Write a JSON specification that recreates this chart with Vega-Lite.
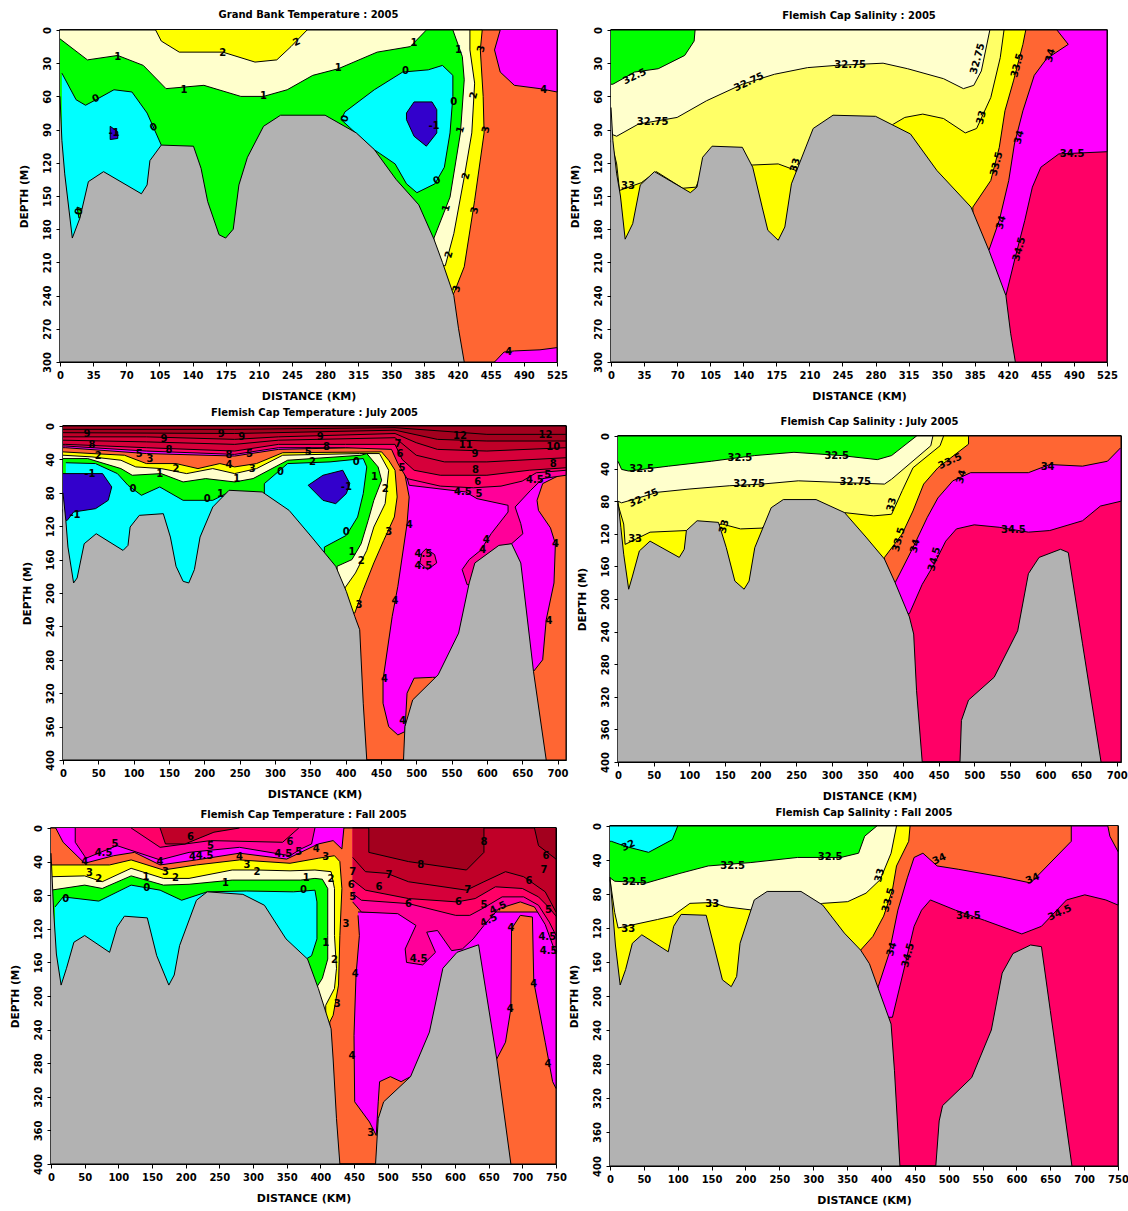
{"$schema":"https://vega.github.io/schema/vega-lite/v6.json","background":"white","padding":{"left":0,"top":8,"right":0,"bottom":0},
"config":{"view":{"stroke":"#000","strokeWidth":1.5},"title":{"font":"DejaVu Sans","fontSize":10,"fontWeight":"bold","color":"#000"},"axis":{"grid":false,"labelFont":"DejaVu Sans","labelFontSize":10,"labelFontWeight":"bold","labelColor":"#000","titleFont":"DejaVu Sans","titleFontWeight":"bold","titleColor":"#000","tickColor":"#000","tickSize":4,"domainColor":"#000","labelPadding":4},"axisY":{"labelAngle":-90,"titlePadding":13,"titleFontSize":10.5},"axisX":{"titlePadding":10,"titleFontSize":11}},
"datasets":{
"d1":[{"p":1,"b":"t3-4","x":0,"y":0},{"p":1,"b":"t3-4","x":525,"y":0},{"p":1,"b":"t3-4","x":525,"y":300},{"p":1,"b":"t3-4","x":0,"y":300},
{"p":2,"b":"t4-4.5","x":465,"y":0},{"p":2,"b":"t4-4.5","x":459,"y":18},{"p":2,"b":"t4-4.5","x":465,"y":38},{"p":2,"b":"t4-4.5","x":480,"y":50},{"p":2,"b":"t4-4.5","x":507,"y":53},{"p":2,"b":"t4-4.5","x":525,"y":56},{"p":2,"b":"t4-4.5","x":525,"y":0},
{"p":3,"b":"t4-4.5","x":459,"y":300},{"p":3,"b":"t4-4.5","x":469,"y":291},{"p":3,"b":"t4-4.5","x":480,"y":290},{"p":3,"b":"t4-4.5","x":507,"y":289},{"p":3,"b":"t4-4.5","x":525,"y":287},{"p":3,"b":"t4-4.5","x":525,"y":300},
{"p":4,"b":"t2-3","x":0,"y":0},{"p":4,"b":"t2-3","x":446,"y":0},{"p":4,"b":"t2-3","x":444,"y":18},{"p":4,"b":"t2-3","x":447,"y":60},{"p":4,"b":"t2-3","x":448,"y":93},{"p":4,"b":"t2-3","x":438,"y":154},{"p":4,"b":"t2-3","x":427,"y":214},{"p":4,"b":"t2-3","x":416,"y":238},{"p":4,"b":"t2-3","x":0,"y":238},
{"p":5,"b":"t1-2","x":0,"y":0},{"p":5,"b":"t1-2","x":433,"y":0},{"p":5,"b":"t1-2","x":433,"y":18},{"p":5,"b":"t1-2","x":438,"y":48},{"p":5,"b":"t1-2","x":435,"y":93},{"p":5,"b":"t1-2","x":427,"y":133},{"p":5,"b":"t1-2","x":416,"y":184},{"p":5,"b":"t1-2","x":407,"y":213},{"p":5,"b":"t1-2","x":0,"y":213},
{"p":6,"b":"t0-1","x":0,"y":8},{"p":6,"b":"t0-1","x":29,"y":27},{"p":6,"b":"t0-1","x":61,"y":23},{"p":6,"b":"t0-1","x":88,"y":32},{"p":6,"b":"t0-1","x":112,"y":53},{"p":6,"b":"t0-1","x":152,"y":50},{"p":6,"b":"t0-1","x":191,"y":60},{"p":6,"b":"t0-1","x":215,"y":60},{"p":6,"b":"t0-1","x":240,"y":54},{"p":6,"b":"t0-1","x":267,"y":41},{"p":6,"b":"t0-1","x":294,"y":35},{"p":6,"b":"t0-1","x":335,"y":20},{"p":6,"b":"t0-1","x":370,"y":15},{"p":6,"b":"t0-1","x":387,"y":0},{"p":6,"b":"t0-1","x":415,"y":0},{"p":6,"b":"t0-1","x":425,"y":24},{"p":6,"b":"t0-1","x":427,"y":45},{"p":6,"b":"t0-1","x":423,"y":93},{"p":6,"b":"t0-1","x":412,"y":151},{"p":6,"b":"t0-1","x":395,"y":188},{"p":6,"b":"t0-1","x":395,"y":200},{"p":6,"b":"t0-1","x":0,"y":200},
{"p":7,"b":"t2-3","x":101,"y":0},{"p":7,"b":"t2-3","x":107,"y":10},{"p":7,"b":"t2-3","x":126,"y":20},{"p":7,"b":"t2-3","x":172,"y":20},{"p":7,"b":"t2-3","x":206,"y":29},{"p":7,"b":"t2-3","x":229,"y":27},{"p":7,"b":"t2-3","x":244,"y":15},{"p":7,"b":"t2-3","x":261,"y":0},
{"p":8,"b":"t-1-0","x":2,"y":39},{"p":8,"b":"t-1-0","x":17,"y":63},{"p":8,"b":"t-1-0","x":27,"y":68},{"p":8,"b":"t-1-0","x":38,"y":63},{"p":8,"b":"t-1-0","x":57,"y":54},{"p":8,"b":"t-1-0","x":76,"y":56},{"p":8,"b":"t-1-0","x":92,"y":75},{"p":8,"b":"t-1-0","x":107,"y":104},{"p":8,"b":"t-1-0","x":107,"y":200},{"p":8,"b":"t-1-0","x":2,"y":200},
{"p":9,"b":"t-1-0","x":301,"y":74},{"p":9,"b":"t-1-0","x":332,"y":54},{"p":9,"b":"t-1-0","x":362,"y":38},{"p":9,"b":"t-1-0","x":389,"y":36},{"p":9,"b":"t-1-0","x":404,"y":32},{"p":9,"b":"t-1-0","x":415,"y":41},{"p":9,"b":"t-1-0","x":415,"y":60},{"p":9,"b":"t-1-0","x":412,"y":93},{"p":9,"b":"t-1-0","x":406,"y":124},{"p":9,"b":"t-1-0","x":396,"y":139},{"p":9,"b":"t-1-0","x":377,"y":147},{"p":9,"b":"t-1-0","x":366,"y":139},{"p":9,"b":"t-1-0","x":354,"y":121},{"p":9,"b":"t-1-0","x":330,"y":107},{"p":9,"b":"t-1-0","x":297,"y":81},{"p":9,"b":"t-1-0","x":301,"y":74},
{"p":10,"b":"t<-1","x":53,"y":87},{"p":10,"b":"t<-1","x":61,"y":92},{"p":10,"b":"t<-1","x":61,"y":98},{"p":10,"b":"t<-1","x":53,"y":99},{"p":10,"b":"t<-1","x":53,"y":87},
{"p":11,"b":"t<-1","x":366,"y":75},{"p":11,"b":"t<-1","x":374,"y":65},{"p":11,"b":"t<-1","x":393,"y":65},{"p":11,"b":"t<-1","x":398,"y":72},{"p":11,"b":"t<-1","x":398,"y":93},{"p":11,"b":"t<-1","x":387,"y":105},{"p":11,"b":"t<-1","x":374,"y":96},{"p":11,"b":"t<-1","x":366,"y":81},{"p":11,"b":"t<-1","x":366,"y":75},
{"p":12,"b":"t0-1","x":18,"y":160},{"p":12,"b":"t0-1","x":24,"y":162},{"p":12,"b":"t0-1","x":24,"y":168},{"p":12,"b":"t0-1","x":20,"y":170},{"p":12,"b":"t0-1","x":18,"y":160},
{"p":13,"b":"floor","x":0,"y":60},{"p":13,"b":"floor","x":2,"y":100},{"p":13,"b":"floor","x":5,"y":130},{"p":13,"b":"floor","x":13,"y":188},{"p":13,"b":"floor","x":21,"y":170},{"p":13,"b":"floor","x":30,"y":137},{"p":13,"b":"floor","x":46,"y":128},{"p":13,"b":"floor","x":86,"y":148},{"p":13,"b":"floor","x":92,"y":140},{"p":13,"b":"floor","x":95,"y":118},{"p":13,"b":"floor","x":107,"y":104},{"p":13,"b":"floor","x":141,"y":105},{"p":13,"b":"floor","x":149,"y":125},{"p":13,"b":"floor","x":156,"y":155},{"p":13,"b":"floor","x":168,"y":185},{"p":13,"b":"floor","x":175,"y":188},{"p":13,"b":"floor","x":183,"y":180},{"p":13,"b":"floor","x":189,"y":140},{"p":13,"b":"floor","x":198,"y":115},{"p":13,"b":"floor","x":215,"y":87},{"p":13,"b":"floor","x":233,"y":77},{"p":13,"b":"floor","x":280,"y":77},{"p":13,"b":"floor","x":313,"y":93},{"p":13,"b":"floor","x":332,"y":108},{"p":13,"b":"floor","x":355,"y":135},{"p":13,"b":"floor","x":379,"y":158},{"p":13,"b":"floor","x":395,"y":189},{"p":13,"b":"floor","x":404,"y":210},{"p":13,"b":"floor","x":416,"y":240},{"p":13,"b":"floor","x":421,"y":270},{"p":13,"b":"floor","x":427,"y":300},{"p":13,"b":"floor","x":0,"y":300}],
"l1":[{"t":"2","x":172,"y":21,"o":"flat"},{"t":"2","x":250,"y":11,"o":"slant"},{"t":"1","x":374,"y":12,"o":"flat"},{"t":"1","x":61,"y":24,"o":"flat"},{"t":"1","x":131,"y":54,"o":"flat"},{"t":"1","x":215,"y":60,"o":"flat"},{"t":"1","x":294,"y":34,"o":"flat"},{"t":"1","x":421,"y":18,"o":"flat"},{"t":"3","x":445,"y":17,"o":"steep"},{"t":"0","x":365,"y":37,"o":"flat"},{"t":"0","x":38,"y":62,"o":"slant"},{"t":"0","x":99,"y":88,"o":"slant"},{"t":"0","x":301,"y":80,"o":"steep"},{"t":"0","x":416,"y":65,"o":"flat"},{"t":"0","x":398,"y":136,"o":"slant"},{"t":"0","x":20,"y":164,"o":"steep"},{"t":"-1","x":57,"y":93,"o":"flat"},{"t":"-1","x":395,"y":87,"o":"flat"},{"t":"2","x":437,"y":59,"o":"steep"},{"t":"3","x":450,"y":90,"o":"steep"},{"t":"1","x":423,"y":90,"o":"steep"},{"t":"2","x":429,"y":132,"o":"steep"},{"t":"1","x":408,"y":161,"o":"steep"},{"t":"3","x":438,"y":163,"o":"steep"},{"t":"2","x":411,"y":203,"o":"steep"},{"t":"3","x":419,"y":234,"o":"steep"},{"t":"4","x":511,"y":54,"o":"flat"},{"t":"4","x":474,"y":291,"o":"flat"}],
"d2":[{"p":1,"b":"s>34.5","x":0,"y":0},{"p":1,"b":"s>34.5","x":525,"y":0},{"p":1,"b":"s>34.5","x":525,"y":300},{"p":1,"b":"s>34.5","x":0,"y":300},
{"p":2,"b":"s34-34.5","x":0,"y":0},{"p":2,"b":"s34-34.5","x":525,"y":0},{"p":2,"b":"s34-34.5","x":525,"y":110},{"p":2,"b":"s34-34.5","x":474,"y":112},{"p":2,"b":"s34-34.5","x":455,"y":124},{"p":2,"b":"s34-34.5","x":446,"y":142},{"p":2,"b":"s34-34.5","x":438,"y":172},{"p":2,"b":"s34-34.5","x":428,"y":205},{"p":2,"b":"s34-34.5","x":418,"y":240},{"p":2,"b":"s34-34.5","x":0,"y":240},
{"p":3,"b":"s33.5-34","x":0,"y":0},{"p":3,"b":"s33.5-34","x":472,"y":0},{"p":3,"b":"s33.5-34","x":484,"y":13},{"p":3,"b":"s33.5-34","x":461,"y":26},{"p":3,"b":"s33.5-34","x":448,"y":41},{"p":3,"b":"s33.5-34","x":436,"y":73},{"p":3,"b":"s33.5-34","x":427,"y":103},{"p":3,"b":"s33.5-34","x":421,"y":136},{"p":3,"b":"s33.5-34","x":411,"y":172},{"p":3,"b":"s33.5-34","x":400,"y":199},{"p":3,"b":"s33.5-34","x":0,"y":199},
{"p":4,"b":"s33-33.5","x":0,"y":0},{"p":4,"b":"s33-33.5","x":439,"y":0},{"p":4,"b":"s33-33.5","x":436,"y":13},{"p":4,"b":"s33-33.5","x":426,"y":46},{"p":4,"b":"s33-33.5","x":417,"y":73},{"p":4,"b":"s33-33.5","x":411,"y":106},{"p":4,"b":"s33-33.5","x":402,"y":136},{"p":4,"b":"s33-33.5","x":383,"y":160},{"p":4,"b":"s33-33.5","x":383,"y":198},{"p":4,"b":"s33-33.5","x":0,"y":198},
{"p":5,"b":"s32.75-33","x":0,"y":0},{"p":5,"b":"s32.75-33","x":416,"y":0},{"p":5,"b":"s32.75-33","x":412,"y":25},{"p":5,"b":"s32.75-33","x":402,"y":61},{"p":5,"b":"s32.75-33","x":387,"y":89},{"p":5,"b":"s32.75-33","x":375,"y":93},{"p":5,"b":"s32.75-33","x":352,"y":80},{"p":5,"b":"s32.75-33","x":330,"y":76},{"p":5,"b":"s32.75-33","x":311,"y":79},{"p":5,"b":"s32.75-33","x":299,"y":85},{"p":5,"b":"s32.75-33","x":280,"y":100},{"p":5,"b":"s32.75-33","x":230,"y":100},{"p":5,"b":"s32.75-33","x":196,"y":127},{"p":5,"b":"s32.75-33","x":177,"y":121},{"p":5,"b":"s32.75-33","x":150,"y":122},{"p":5,"b":"s32.75-33","x":100,"y":120},{"p":5,"b":"s32.75-33","x":90,"y":142},{"p":5,"b":"s32.75-33","x":76,"y":143},{"p":5,"b":"s32.75-33","x":48,"y":128},{"p":5,"b":"s32.75-33","x":32,"y":138},{"p":5,"b":"s32.75-33","x":9,"y":145},{"p":5,"b":"s32.75-33","x":6,"y":121},{"p":5,"b":"s32.75-33","x":0,"y":100},
{"p":6,"b":"s32.5-32.75","x":0,"y":0},{"p":6,"b":"s32.5-32.75","x":401,"y":0},{"p":6,"b":"s32.5-32.75","x":392,"y":37},{"p":6,"b":"s32.5-32.75","x":384,"y":50},{"p":6,"b":"s32.5-32.75","x":373,"y":53},{"p":6,"b":"s32.5-32.75","x":352,"y":44},{"p":6,"b":"s32.5-32.75","x":314,"y":35},{"p":6,"b":"s32.5-32.75","x":288,"y":30},{"p":6,"b":"s32.5-32.75","x":238,"y":32},{"p":6,"b":"s32.5-32.75","x":208,"y":34},{"p":6,"b":"s32.5-32.75","x":173,"y":40},{"p":6,"b":"s32.5-32.75","x":139,"y":49},{"p":6,"b":"s32.5-32.75","x":101,"y":64},{"p":6,"b":"s32.5-32.75","x":70,"y":79},{"p":6,"b":"s32.5-32.75","x":29,"y":85},{"p":6,"b":"s32.5-32.75","x":6,"y":96},{"p":6,"b":"s32.5-32.75","x":0,"y":94},
{"p":7,"b":"s32-32.5","x":0,"y":0},{"p":7,"b":"s32-32.5","x":89,"y":0},{"p":7,"b":"s32-32.5","x":88,"y":10},{"p":7,"b":"s32-32.5","x":78,"y":23},{"p":7,"b":"s32-32.5","x":50,"y":35},{"p":7,"b":"s32-32.5","x":25,"y":38},{"p":7,"b":"s32-32.5","x":2,"y":49},{"p":7,"b":"s32-32.5","x":0,"y":49},
{"p":8,"b":"floor","x":0,"y":70},{"p":8,"b":"floor","x":2,"y":100},{"p":8,"b":"floor","x":6,"y":130},{"p":8,"b":"floor","x":10,"y":150},{"p":8,"b":"floor","x":15,"y":189},{"p":8,"b":"floor","x":23,"y":175},{"p":8,"b":"floor","x":31,"y":140},{"p":8,"b":"floor","x":46,"y":128},{"p":8,"b":"floor","x":74,"y":142},{"p":8,"b":"floor","x":84,"y":147},{"p":8,"b":"floor","x":91,"y":142},{"p":8,"b":"floor","x":97,"y":115},{"p":8,"b":"floor","x":107,"y":105},{"p":8,"b":"floor","x":139,"y":106},{"p":8,"b":"floor","x":150,"y":124},{"p":8,"b":"floor","x":160,"y":160},{"p":8,"b":"floor","x":166,"y":181},{"p":8,"b":"floor","x":177,"y":190},{"p":8,"b":"floor","x":184,"y":178},{"p":8,"b":"floor","x":191,"y":139},{"p":8,"b":"floor","x":214,"y":89},{"p":8,"b":"floor","x":235,"y":77},{"p":8,"b":"floor","x":280,"y":78},{"p":8,"b":"floor","x":317,"y":94},{"p":8,"b":"floor","x":345,"y":127},{"p":8,"b":"floor","x":381,"y":160},{"p":8,"b":"floor","x":400,"y":199},{"p":8,"b":"floor","x":418,"y":240},{"p":8,"b":"floor","x":423,"y":274},{"p":8,"b":"floor","x":428,"y":300},{"p":8,"b":"floor","x":0,"y":300}],
"l2":[{"t":"32.5","x":25,"y":42,"o":"slant"},{"t":"32.75","x":44,"y":83,"o":"flat"},{"t":"32.75","x":146,"y":47,"o":"slant"},{"t":"32.75","x":253,"y":32,"o":"flat"},{"t":"32.75","x":388,"y":26,"o":"steep"},{"t":"33","x":392,"y":79,"o":"steep"},{"t":"33.5","x":430,"y":32,"o":"steep"},{"t":"34","x":465,"y":23,"o":"steep"},{"t":"34.5","x":488,"y":112,"o":"flat"},{"t":"33","x":18,"y":141,"o":"flat"},{"t":"33","x":195,"y":122,"o":"steep"},{"t":"33.5","x":408,"y":121,"o":"steep"},{"t":"34","x":432,"y":97,"o":"steep"},{"t":"34","x":413,"y":174,"o":"steep"},{"t":"34.5","x":432,"y":198,"o":"steep"}],
"d3":[{"p":1,"b":"t3-4","x":0,"y":0},{"p":1,"b":"t3-4","x":712,"y":0},{"p":1,"b":"t3-4","x":712,"y":400},{"p":1,"b":"t3-4","x":0,"y":400},
{"p":2,"b":"t4-4.5","x":470,"y":30},{"p":2,"b":"t4-4.5","x":712,"y":30},{"p":2,"b":"t4-4.5","x":712,"y":55},{"p":2,"b":"t4-4.5","x":679,"y":69},{"p":2,"b":"t4-4.5","x":671,"y":89},{"p":2,"b":"t4-4.5","x":673,"y":101},{"p":2,"b":"t4-4.5","x":690,"y":122},{"p":2,"b":"t4-4.5","x":697,"y":141},{"p":2,"b":"t4-4.5","x":695,"y":188},{"p":2,"b":"t4-4.5","x":684,"y":232},{"p":2,"b":"t4-4.5","x":679,"y":280},{"p":2,"b":"t4-4.5","x":666,"y":294},{"p":2,"b":"t4-4.5","x":650,"y":300},{"p":2,"b":"t4-4.5","x":523,"y":301},{"p":2,"b":"t4-4.5","x":497,"y":302},{"p":2,"b":"t4-4.5","x":487,"y":320},{"p":2,"b":"t4-4.5","x":484,"y":366},{"p":2,"b":"t4-4.5","x":474,"y":370},{"p":2,"b":"t4-4.5","x":461,"y":360},{"p":2,"b":"t4-4.5","x":453,"y":332},{"p":2,"b":"t4-4.5","x":453,"y":304},{"p":2,"b":"t4-4.5","x":466,"y":228},{"p":2,"b":"t4-4.5","x":474,"y":192},{"p":2,"b":"t4-4.5","x":487,"y":117},{"p":2,"b":"t4-4.5","x":490,"y":85},{"p":2,"b":"t4-4.5","x":482,"y":49},
{"p":3,"b":"t4.5-5","x":484,"y":40},{"p":3,"b":"t4.5-5","x":712,"y":40},{"p":3,"b":"t4.5-5","x":712,"y":59},{"p":3,"b":"t4.5-5","x":679,"y":63},{"p":3,"b":"t4.5-5","x":662,"y":77},{"p":3,"b":"t4.5-5","x":640,"y":97},{"p":3,"b":"t4.5-5","x":648,"y":117},{"p":3,"b":"t4.5-5","x":651,"y":129},{"p":3,"b":"t4.5-5","x":635,"y":141},{"p":3,"b":"t4.5-5","x":620,"y":145},{"p":3,"b":"t4.5-5","x":591,"y":165},{"p":3,"b":"t4.5-5","x":585,"y":190},{"p":3,"b":"t4.5-5","x":572,"y":190},{"p":3,"b":"t4.5-5","x":565,"y":172},{"p":3,"b":"t4.5-5","x":575,"y":160},{"p":3,"b":"t4.5-5","x":591,"y":149},{"p":3,"b":"t4.5-5","x":606,"y":129},{"p":3,"b":"t4.5-5","x":630,"y":103},{"p":3,"b":"t4.5-5","x":630,"y":95},{"p":3,"b":"t4.5-5","x":586,"y":87},{"p":3,"b":"t4.5-5","x":570,"y":79},{"p":3,"b":"t4.5-5","x":490,"y":71},{"p":3,"b":"t4.5-5","x":484,"y":53},
{"p":4,"b":"t4.5-5","x":514,"y":147},{"p":4,"b":"t4.5-5","x":526,"y":154},{"p":4,"b":"t4.5-5","x":529,"y":164},{"p":4,"b":"t4.5-5","x":516,"y":172},{"p":4,"b":"t4.5-5","x":505,"y":164},{"p":4,"b":"t4.5-5","x":508,"y":152},{"p":4,"b":"t4.5-5","x":514,"y":147},
{"p":5,"b":"t2-3","x":0,"y":31},{"p":5,"b":"t2-3","x":41,"y":33},{"p":5,"b":"t2-3","x":87,"y":35},{"p":5,"b":"t2-3","x":118,"y":45},{"p":5,"b":"t2-3","x":160,"y":45},{"p":5,"b":"t2-3","x":191,"y":51},{"p":5,"b":"t2-3","x":222,"y":45},{"p":5,"b":"t2-3","x":243,"y":49},{"p":5,"b":"t2-3","x":274,"y":45},{"p":5,"b":"t2-3","x":311,"y":32},{"p":5,"b":"t2-3","x":451,"y":31},{"p":5,"b":"t2-3","x":461,"y":41},{"p":5,"b":"t2-3","x":470,"y":53},{"p":5,"b":"t2-3","x":473,"y":85},{"p":5,"b":"t2-3","x":469,"y":109},{"p":5,"b":"t2-3","x":454,"y":137},{"p":5,"b":"t2-3","x":440,"y":164},{"p":5,"b":"t2-3","x":425,"y":196},{"p":5,"b":"t2-3","x":413,"y":224},{"p":5,"b":"t2-3","x":0,"y":224},
{"p":6,"b":"t1-2","x":0,"y":35},{"p":6,"b":"t1-2","x":41,"y":37},{"p":6,"b":"t1-2","x":82,"y":41},{"p":6,"b":"t1-2","x":103,"y":49},{"p":6,"b":"t1-2","x":139,"y":51},{"p":6,"b":"t1-2","x":175,"y":57},{"p":6,"b":"t1-2","x":212,"y":51},{"p":6,"b":"t1-2","x":243,"y":57},{"p":6,"b":"t1-2","x":274,"y":51},{"p":6,"b":"t1-2","x":311,"y":35},{"p":6,"b":"t1-2","x":420,"y":33},{"p":6,"b":"t1-2","x":448,"y":33},{"p":6,"b":"t1-2","x":461,"y":53},{"p":6,"b":"t1-2","x":456,"y":93},{"p":6,"b":"t1-2","x":440,"y":121},{"p":6,"b":"t1-2","x":430,"y":149},{"p":6,"b":"t1-2","x":414,"y":176},{"p":6,"b":"t1-2","x":399,"y":194},{"p":6,"b":"t1-2","x":399,"y":210},{"p":6,"b":"t1-2","x":0,"y":210},
{"p":7,"b":"t0-1","x":0,"y":39},{"p":7,"b":"t0-1","x":35,"y":39},{"p":7,"b":"t0-1","x":82,"y":51},{"p":7,"b":"t0-1","x":98,"y":59},{"p":7,"b":"t0-1","x":139,"y":57},{"p":7,"b":"t0-1","x":170,"y":67},{"p":7,"b":"t0-1","x":202,"y":63},{"p":7,"b":"t0-1","x":243,"y":67},{"p":7,"b":"t0-1","x":269,"y":63},{"p":7,"b":"t0-1","x":318,"y":41},{"p":7,"b":"t0-1","x":422,"y":35},{"p":7,"b":"t0-1","x":430,"y":33},{"p":7,"b":"t0-1","x":446,"y":49},{"p":7,"b":"t0-1","x":451,"y":65},{"p":7,"b":"t0-1","x":440,"y":89},{"p":7,"b":"t0-1","x":432,"y":113},{"p":7,"b":"t0-1","x":422,"y":141},{"p":7,"b":"t0-1","x":409,"y":160},{"p":7,"b":"t0-1","x":388,"y":168},{"p":7,"b":"t0-1","x":388,"y":190},{"p":7,"b":"t0-1","x":0,"y":190},
{"p":8,"b":"t-1-0","x":4,"y":44},{"p":8,"b":"t-1-0","x":46,"y":45},{"p":8,"b":"t-1-0","x":77,"y":57},{"p":8,"b":"t-1-0","x":92,"y":71},{"p":8,"b":"t-1-0","x":111,"y":83},{"p":8,"b":"t-1-0","x":137,"y":73},{"p":8,"b":"t-1-0","x":170,"y":89},{"p":8,"b":"t-1-0","x":212,"y":89},{"p":8,"b":"t-1-0","x":233,"y":80},{"p":8,"b":"t-1-0","x":233,"y":100},{"p":8,"b":"t-1-0","x":285,"y":100},{"p":8,"b":"t-1-0","x":285,"y":69},{"p":8,"b":"t-1-0","x":318,"y":45},{"p":8,"b":"t-1-0","x":378,"y":43},{"p":8,"b":"t-1-0","x":425,"y":39},{"p":8,"b":"t-1-0","x":430,"y":49},{"p":8,"b":"t-1-0","x":425,"y":81},{"p":8,"b":"t-1-0","x":417,"y":109},{"p":8,"b":"t-1-0","x":401,"y":131},{"p":8,"b":"t-1-0","x":370,"y":145},{"p":8,"b":"t-1-0","x":370,"y":200},{"p":8,"b":"t-1-0","x":4,"y":200},
{"p":9,"b":"t<-1","x":0,"y":57},{"p":9,"b":"t<-1","x":56,"y":57},{"p":9,"b":"t<-1","x":69,"y":73},{"p":9,"b":"t<-1","x":64,"y":89},{"p":9,"b":"t<-1","x":46,"y":99},{"p":9,"b":"t<-1","x":15,"y":103},{"p":9,"b":"t<-1","x":6,"y":113},{"p":9,"b":"t<-1","x":2,"y":113},{"p":9,"b":"t<-1","x":0,"y":100},
{"p":10,"b":"t<-1","x":347,"y":71},{"p":10,"b":"t<-1","x":368,"y":59},{"p":10,"b":"t<-1","x":396,"y":53},{"p":10,"b":"t<-1","x":406,"y":69},{"p":10,"b":"t<-1","x":401,"y":81},{"p":10,"b":"t<-1","x":386,"y":93},{"p":10,"b":"t<-1","x":368,"y":89},{"p":10,"b":"t<-1","x":347,"y":71},
{"p":11,"b":"t4-4.5","x":0,"y":0},{"p":11,"b":"t4-4.5","x":470,"y":0},{"p":11,"b":"t4-4.5","x":470,"y":27},{"p":11,"b":"t4-4.5","x":456,"y":25},{"p":11,"b":"t4-4.5","x":305,"y":28},{"p":11,"b":"t4-4.5","x":243,"y":36},{"p":11,"b":"t4-4.5","x":118,"y":33},{"p":11,"b":"t4-4.5","x":4,"y":26},{"p":11,"b":"t4-4.5","x":0,"y":26},
{"p":12,"b":"t5-6","x":0,"y":0},{"p":12,"b":"t5-6","x":712,"y":0},{"p":12,"b":"t5-6","x":712,"y":53},{"p":12,"b":"t5-6","x":670,"y":56},{"p":12,"b":"t5-6","x":650,"y":66},{"p":12,"b":"t5-6","x":620,"y":72},{"p":12,"b":"t5-6","x":581,"y":74},{"p":12,"b":"t5-6","x":534,"y":72},{"p":12,"b":"t5-6","x":487,"y":63},{"p":12,"b":"t5-6","x":474,"y":45},{"p":12,"b":"t5-6","x":465,"y":28},{"p":12,"b":"t5-6","x":400,"y":26},{"p":12,"b":"t5-6","x":305,"y":26},{"p":12,"b":"t5-6","x":243,"y":34},{"p":12,"b":"t5-6","x":118,"y":30},{"p":12,"b":"t5-6","x":4,"y":24},{"p":12,"b":"t5-6","x":0,"y":24},
{"p":13,"b":"t6-7","x":0,"y":0},{"p":13,"b":"t6-7","x":712,"y":0},{"p":13,"b":"t6-7","x":712,"y":50},{"p":13,"b":"t6-7","x":660,"y":53},{"p":13,"b":"t6-7","x":600,"y":59},{"p":13,"b":"t6-7","x":534,"y":59},{"p":13,"b":"t6-7","x":497,"y":53},{"p":13,"b":"t6-7","x":480,"y":40},{"p":13,"b":"t6-7","x":470,"y":22},{"p":13,"b":"t6-7","x":400,"y":22},{"p":13,"b":"t6-7","x":305,"y":22},{"p":13,"b":"t6-7","x":243,"y":30},{"p":13,"b":"t6-7","x":118,"y":26},{"p":13,"b":"t6-7","x":4,"y":22},{"p":13,"b":"t6-7","x":0,"y":22},
{"p":14,"b":"t6-7","x":0,"y":0},{"p":14,"b":"t6-7","x":712,"y":0},{"p":14,"b":"t6-7","x":712,"y":38},{"p":14,"b":"t6-7","x":600,"y":43},{"p":14,"b":"t6-7","x":540,"y":43},{"p":14,"b":"t6-7","x":500,"y":35},{"p":14,"b":"t6-7","x":470,"y":14},{"p":14,"b":"t6-7","x":305,"y":17},{"p":14,"b":"t6-7","x":243,"y":22},{"p":14,"b":"t6-7","x":118,"y":19},{"p":14,"b":"t6-7","x":0,"y":17},
{"p":15,"b":"t7-8","x":0,"y":0},{"p":15,"b":"t7-8","x":712,"y":0},{"p":15,"b":"t7-8","x":712,"y":26},{"p":15,"b":"t7-8","x":600,"y":30},{"p":15,"b":"t7-8","x":530,"y":28},{"p":15,"b":"t7-8","x":500,"y":20},{"p":15,"b":"t7-8","x":470,"y":9},{"p":15,"b":"t7-8","x":305,"y":13},{"p":15,"b":"t7-8","x":243,"y":16},{"p":15,"b":"t7-8","x":118,"y":13},{"p":15,"b":"t7-8","x":0,"y":13},
{"p":16,"b":"t>8","x":0,"y":0},{"p":16,"b":"t>8","x":712,"y":0},{"p":16,"b":"t>8","x":712,"y":18},{"p":16,"b":"t>8","x":600,"y":18},{"p":16,"b":"t>8","x":530,"y":16},{"p":16,"b":"t>8","x":470,"y":5},{"p":16,"b":"t>8","x":243,"y":9},{"p":16,"b":"t>8","x":0,"y":8},
{"p":17,"b":"t>8","x":0,"y":0},{"p":17,"b":"t>8","x":712,"y":0},{"p":17,"b":"t>8","x":712,"y":10},{"p":17,"b":"t>8","x":600,"y":10},{"p":17,"b":"t>8","x":470,"y":2},{"p":17,"b":"t>8","x":243,"y":4},{"p":17,"b":"t>8","x":0,"y":4},
{"p":18,"b":"floor","x":0,"y":80},{"p":18,"b":"floor","x":4,"y":113},{"p":18,"b":"floor","x":7,"y":145},{"p":18,"b":"floor","x":15,"y":188},{"p":18,"b":"floor","x":20,"y":182},{"p":18,"b":"floor","x":30,"y":141},{"p":18,"b":"floor","x":47,"y":129},{"p":18,"b":"floor","x":85,"y":149},{"p":18,"b":"floor","x":92,"y":143},{"p":18,"b":"floor","x":95,"y":121},{"p":18,"b":"floor","x":108,"y":107},{"p":18,"b":"floor","x":142,"y":105},{"p":18,"b":"floor","x":152,"y":133},{"p":18,"b":"floor","x":160,"y":168},{"p":18,"b":"floor","x":170,"y":186},{"p":18,"b":"floor","x":178,"y":188},{"p":18,"b":"floor","x":186,"y":172},{"p":18,"b":"floor","x":194,"y":133},{"p":18,"b":"floor","x":212,"y":97},{"p":18,"b":"floor","x":235,"y":77},{"p":18,"b":"floor","x":282,"y":79},{"p":18,"b":"floor","x":320,"y":101},{"p":18,"b":"floor","x":352,"y":133},{"p":18,"b":"floor","x":386,"y":168},{"p":18,"b":"floor","x":401,"y":198},{"p":18,"b":"floor","x":413,"y":228},{"p":18,"b":"floor","x":420,"y":244},{"p":18,"b":"floor","x":425,"y":332},{"p":18,"b":"floor","x":430,"y":400},{"p":18,"b":"floor","x":482,"y":400},{"p":18,"b":"floor","x":484,"y":360},{"p":18,"b":"floor","x":495,"y":328},{"p":18,"b":"floor","x":531,"y":298},{"p":18,"b":"floor","x":560,"y":248},{"p":18,"b":"floor","x":575,"y":188},{"p":18,"b":"floor","x":583,"y":164},{"p":18,"b":"floor","x":617,"y":143},{"p":18,"b":"floor","x":635,"y":141},{"p":18,"b":"floor","x":648,"y":164},{"p":18,"b":"floor","x":666,"y":294},{"p":18,"b":"floor","x":684,"y":400},{"p":18,"b":"floor","x":0,"y":400}],
"l3":[{"t":"9","x":34,"y":10,"o":"flat"},{"t":"8","x":41,"y":23,"o":"flat"},{"t":"9","x":143,"y":15,"o":"flat"},{"t":"8","x":150,"y":29,"o":"flat"},{"t":"5","x":108,"y":33,"o":"flat"},{"t":"3","x":123,"y":39,"o":"flat"},{"t":"2","x":50,"y":36,"o":"flat"},{"t":"-1","x":38,"y":57,"o":"flat"},{"t":"0","x":99,"y":75,"o":"flat"},{"t":"1","x":137,"y":57,"o":"flat"},{"t":"2","x":160,"y":51,"o":"flat"},{"t":"0","x":204,"y":88,"o":"flat"},{"t":"1","x":223,"y":81,"o":"flat"},{"t":"9","x":224,"y":9,"o":"flat"},{"t":"9","x":253,"y":13,"o":"flat"},{"t":"8","x":235,"y":35,"o":"flat"},{"t":"4","x":235,"y":47,"o":"flat"},{"t":"5","x":264,"y":33,"o":"flat"},{"t":"3","x":268,"y":51,"o":"flat"},{"t":"1","x":246,"y":63,"o":"flat"},{"t":"0","x":308,"y":55,"o":"flat"},{"t":"9","x":364,"y":13,"o":"flat"},{"t":"8","x":373,"y":25,"o":"flat"},{"t":"5","x":347,"y":31,"o":"flat"},{"t":"2","x":353,"y":43,"o":"flat"},{"t":"0","x":415,"y":43,"o":"flat"},{"t":"-1","x":401,"y":73,"o":"flat"},{"t":"-1","x":17,"y":107,"o":"flat"},{"t":"1","x":441,"y":61,"o":"flat"},{"t":"2","x":456,"y":75,"o":"flat"},{"t":"0","x":401,"y":127,"o":"flat"},{"t":"1","x":409,"y":151,"o":"flat"},{"t":"2","x":422,"y":162,"o":"flat"},{"t":"3","x":461,"y":127,"o":"flat"},{"t":"3","x":419,"y":214,"o":"flat"},{"t":"4","x":490,"y":119,"o":"flat"},{"t":"4","x":470,"y":210,"o":"flat"},{"t":"4","x":455,"y":303,"o":"flat"},{"t":"4","x":481,"y":353,"o":"flat"},{"t":"4.5","x":510,"y":153,"o":"flat"},{"t":"4.5","x":510,"y":168,"o":"flat"},{"t":"4","x":599,"y":137,"o":"flat"},{"t":"4","x":594,"y":148,"o":"flat"},{"t":"4","x":697,"y":141,"o":"flat"},{"t":"4","x":688,"y":233,"o":"flat"},{"t":"12","x":562,"y":12,"o":"flat"},{"t":"11","x":570,"y":23,"o":"flat"},{"t":"9","x":583,"y":33,"o":"flat"},{"t":"8","x":584,"y":53,"o":"flat"},{"t":"6","x":587,"y":67,"o":"flat"},{"t":"5","x":589,"y":82,"o":"flat"},{"t":"4.5","x":566,"y":79,"o":"flat"},{"t":"12","x":683,"y":11,"o":"flat"},{"t":"10","x":694,"y":25,"o":"flat"},{"t":"8","x":694,"y":45,"o":"flat"},{"t":"5","x":686,"y":59,"o":"flat"},{"t":"4.5","x":668,"y":65,"o":"flat"},{"t":"7","x":474,"y":21,"o":"flat"},{"t":"6","x":477,"y":34,"o":"flat"},{"t":"5","x":480,"y":50,"o":"flat"}],
"d4":[{"p":1,"b":"s>34.5","x":0,"y":0},{"p":1,"b":"s>34.5","x":706,"y":0},{"p":1,"b":"s>34.5","x":706,"y":400},{"p":1,"b":"s>34.5","x":0,"y":400},
{"p":2,"b":"s34-34.5","x":0,"y":0},{"p":2,"b":"s34-34.5","x":706,"y":0},{"p":2,"b":"s34-34.5","x":706,"y":80},{"p":2,"b":"s34-34.5","x":677,"y":86},{"p":2,"b":"s34-34.5","x":652,"y":104},{"p":2,"b":"s34-34.5","x":606,"y":116},{"p":2,"b":"s34-34.5","x":576,"y":118},{"p":2,"b":"s34-34.5","x":535,"y":112},{"p":2,"b":"s34-34.5","x":500,"y":109},{"p":2,"b":"s34-34.5","x":475,"y":114},{"p":2,"b":"s34-34.5","x":460,"y":129},{"p":2,"b":"s34-34.5","x":444,"y":157},{"p":2,"b":"s34-34.5","x":427,"y":182},{"p":2,"b":"s34-34.5","x":409,"y":218},{"p":2,"b":"s34-34.5","x":0,"y":218},
{"p":3,"b":"s33.5-34","x":0,"y":0},{"p":3,"b":"s33.5-34","x":706,"y":0},{"p":3,"b":"s33.5-34","x":706,"y":14},{"p":3,"b":"s33.5-34","x":687,"y":31},{"p":3,"b":"s33.5-34","x":652,"y":37},{"p":3,"b":"s33.5-34","x":606,"y":35},{"p":3,"b":"s33.5-34","x":576,"y":45},{"p":3,"b":"s33.5-34","x":495,"y":45},{"p":3,"b":"s33.5-34","x":470,"y":55},{"p":3,"b":"s33.5-34","x":449,"y":76},{"p":3,"b":"s33.5-34","x":434,"y":100},{"p":3,"b":"s33.5-34","x":414,"y":137},{"p":3,"b":"s33.5-34","x":389,"y":180},{"p":3,"b":"s33.5-34","x":389,"y":198},{"p":3,"b":"s33.5-34","x":0,"y":198},
{"p":4,"b":"s33-33.5","x":0,"y":0},{"p":4,"b":"s33-33.5","x":492,"y":0},{"p":4,"b":"s33-33.5","x":492,"y":10},{"p":4,"b":"s33-33.5","x":449,"y":39},{"p":4,"b":"s33-33.5","x":429,"y":59},{"p":4,"b":"s33-33.5","x":414,"y":92},{"p":4,"b":"s33-33.5","x":399,"y":120},{"p":4,"b":"s33-33.5","x":374,"y":149},{"p":4,"b":"s33-33.5","x":374,"y":198},{"p":4,"b":"s33-33.5","x":0,"y":198},
{"p":5,"b":"s32.75-33","x":0,"y":0},{"p":5,"b":"s32.75-33","x":457,"y":0},{"p":5,"b":"s32.75-33","x":452,"y":12},{"p":5,"b":"s32.75-33","x":414,"y":39},{"p":5,"b":"s32.75-33","x":399,"y":67},{"p":5,"b":"s32.75-33","x":384,"y":96},{"p":5,"b":"s32.75-33","x":359,"y":98},{"p":5,"b":"s32.75-33","x":318,"y":94},{"p":5,"b":"s32.75-33","x":280,"y":100},{"p":5,"b":"s32.75-33","x":220,"y":100},{"p":5,"b":"s32.75-33","x":202,"y":113},{"p":5,"b":"s32.75-33","x":172,"y":114},{"p":5,"b":"s32.75-33","x":146,"y":108},{"p":5,"b":"s32.75-33","x":96,"y":116},{"p":5,"b":"s32.75-33","x":45,"y":118},{"p":5,"b":"s32.75-33","x":10,"y":133},{"p":5,"b":"s32.75-33","x":8,"y":108},{"p":5,"b":"s32.75-33","x":0,"y":84},
{"p":6,"b":"s32.5-32.75","x":0,"y":0},{"p":6,"b":"s32.5-32.75","x":442,"y":0},{"p":6,"b":"s32.5-32.75","x":439,"y":12},{"p":6,"b":"s32.5-32.75","x":384,"y":53},{"p":6,"b":"s32.5-32.75","x":374,"y":59},{"p":6,"b":"s32.5-32.75","x":313,"y":57},{"p":6,"b":"s32.5-32.75","x":253,"y":55},{"p":6,"b":"s32.5-32.75","x":202,"y":59},{"p":6,"b":"s32.5-32.75","x":157,"y":61},{"p":6,"b":"s32.5-32.75","x":101,"y":65},{"p":6,"b":"s32.5-32.75","x":56,"y":69},{"p":6,"b":"s32.5-32.75","x":5,"y":82},{"p":6,"b":"s32.5-32.75","x":0,"y":80},
{"p":7,"b":"s32-32.5","x":0,"y":0},{"p":7,"b":"s32-32.5","x":419,"y":0},{"p":7,"b":"s32-32.5","x":384,"y":24},{"p":7,"b":"s32-32.5","x":364,"y":29},{"p":7,"b":"s32-32.5","x":313,"y":24},{"p":7,"b":"s32-32.5","x":247,"y":20},{"p":7,"b":"s32-32.5","x":192,"y":24},{"p":7,"b":"s32-32.5","x":131,"y":31},{"p":7,"b":"s32-32.5","x":71,"y":37},{"p":7,"b":"s32-32.5","x":15,"y":43},{"p":7,"b":"s32-32.5","x":5,"y":41},{"p":7,"b":"s32-32.5","x":0,"y":31},
{"p":8,"b":"floor","x":0,"y":80},{"p":8,"b":"floor","x":4,"y":112},{"p":8,"b":"floor","x":8,"y":145},{"p":8,"b":"floor","x":15,"y":188},{"p":8,"b":"floor","x":20,"y":173},{"p":8,"b":"floor","x":30,"y":141},{"p":8,"b":"floor","x":45,"y":129},{"p":8,"b":"floor","x":86,"y":149},{"p":8,"b":"floor","x":93,"y":139},{"p":8,"b":"floor","x":96,"y":116},{"p":8,"b":"floor","x":111,"y":104},{"p":8,"b":"floor","x":141,"y":106},{"p":8,"b":"floor","x":152,"y":137},{"p":8,"b":"floor","x":164,"y":178},{"p":8,"b":"floor","x":177,"y":188},{"p":8,"b":"floor","x":184,"y":178},{"p":8,"b":"floor","x":192,"y":137},{"p":8,"b":"floor","x":215,"y":88},{"p":8,"b":"floor","x":232,"y":78},{"p":8,"b":"floor","x":278,"y":78},{"p":8,"b":"floor","x":318,"y":94},{"p":8,"b":"floor","x":348,"y":124},{"p":8,"b":"floor","x":374,"y":151},{"p":8,"b":"floor","x":389,"y":180},{"p":8,"b":"floor","x":409,"y":222},{"p":8,"b":"floor","x":415,"y":243},{"p":8,"b":"floor","x":419,"y":312},{"p":8,"b":"floor","x":427,"y":400},{"p":8,"b":"floor","x":480,"y":400},{"p":8,"b":"floor","x":482,"y":349},{"p":8,"b":"floor","x":492,"y":324},{"p":8,"b":"floor","x":528,"y":296},{"p":8,"b":"floor","x":561,"y":239},{"p":8,"b":"floor","x":576,"y":169},{"p":8,"b":"floor","x":591,"y":149},{"p":8,"b":"floor","x":621,"y":139},{"p":8,"b":"floor","x":632,"y":143},{"p":8,"b":"floor","x":652,"y":255},{"p":8,"b":"floor","x":678,"y":400},{"p":8,"b":"floor","x":0,"y":400}],
"l4":[{"t":"32.5","x":33,"y":41,"o":"flat"},{"t":"32.5","x":171,"y":27,"o":"flat"},{"t":"32.5","x":307,"y":25,"o":"flat"},{"t":"32.75","x":36,"y":76,"o":"slant"},{"t":"32.75","x":184,"y":59,"o":"flat"},{"t":"32.75","x":333,"y":56,"o":"flat"},{"t":"33","x":24,"y":126,"o":"flat"},{"t":"33","x":149,"y":111,"o":"steep"},{"t":"33","x":384,"y":84,"o":"steep"},{"t":"33.5","x":466,"y":31,"o":"slant"},{"t":"34","x":482,"y":50,"o":"steep"},{"t":"34","x":603,"y":38,"o":"flat"},{"t":"33.5","x":394,"y":127,"o":"steep"},{"t":"34","x":417,"y":135,"o":"steep"},{"t":"34.5","x":444,"y":151,"o":"steep"},{"t":"34.5","x":555,"y":115,"o":"flat"}],
"d5":[{"p":1,"b":"t3-4","x":0,"y":0},{"p":1,"b":"t3-4","x":750,"y":0},{"p":1,"b":"t3-4","x":750,"y":400},{"p":1,"b":"t3-4","x":0,"y":400},
{"p":2,"b":"t4-4.5","x":456,"y":100},{"p":2,"b":"t4-4.5","x":750,"y":100},{"p":2,"b":"t4-4.5","x":750,"y":310},{"p":2,"b":"t4-4.5","x":745,"y":302},{"p":2,"b":"t4-4.5","x":734,"y":255},{"p":2,"b":"t4-4.5","x":717,"y":183},{"p":2,"b":"t4-4.5","x":715,"y":106},{"p":2,"b":"t4-4.5","x":697,"y":104},{"p":2,"b":"t4-4.5","x":684,"y":120},{"p":2,"b":"t4-4.5","x":683,"y":215},{"p":2,"b":"t4-4.5","x":675,"y":255},{"p":2,"b":"t4-4.5","x":662,"y":275},{"p":2,"b":"t4-4.5","x":640,"y":300},{"p":2,"b":"t4-4.5","x":534,"y":296},{"p":2,"b":"t4-4.5","x":520,"y":302},{"p":2,"b":"t4-4.5","x":504,"y":296},{"p":2,"b":"t4-4.5","x":488,"y":302},{"p":2,"b":"t4-4.5","x":486,"y":326},{"p":2,"b":"t4-4.5","x":483,"y":366},{"p":2,"b":"t4-4.5","x":473,"y":350},{"p":2,"b":"t4-4.5","x":451,"y":326},{"p":2,"b":"t4-4.5","x":450,"y":247},{"p":2,"b":"t4-4.5","x":453,"y":175},{"p":2,"b":"t4-4.5","x":458,"y":128},{"p":2,"b":"t4-4.5","x":456,"y":104},
{"p":3,"b":"t4.5-5","x":448,"y":0},{"p":3,"b":"t4.5-5","x":750,"y":0},{"p":3,"b":"t4.5-5","x":750,"y":150},{"p":3,"b":"t4.5-5","x":734,"y":115},{"p":3,"b":"t4.5-5","x":718,"y":94},{"p":3,"b":"t4.5-5","x":697,"y":88},{"p":3,"b":"t4.5-5","x":665,"y":96},{"p":3,"b":"t4.5-5","x":643,"y":116},{"p":3,"b":"t4.5-5","x":627,"y":132},{"p":3,"b":"t4.5-5","x":611,"y":144},{"p":3,"b":"t4.5-5","x":595,"y":146},{"p":3,"b":"t4.5-5","x":574,"y":122},{"p":3,"b":"t4.5-5","x":558,"y":124},{"p":3,"b":"t4.5-5","x":571,"y":148},{"p":3,"b":"t4.5-5","x":552,"y":163},{"p":3,"b":"t4.5-5","x":528,"y":160},{"p":3,"b":"t4.5-5","x":526,"y":144},{"p":3,"b":"t4.5-5","x":542,"y":116},{"p":3,"b":"t4.5-5","x":515,"y":102},{"p":3,"b":"t4.5-5","x":461,"y":100},{"p":3,"b":"t4.5-5","x":448,"y":88},
{"p":4,"b":"t5-6","x":448,"y":0},{"p":4,"b":"t5-6","x":750,"y":0},{"p":4,"b":"t5-6","x":750,"y":128},{"p":4,"b":"t5-6","x":740,"y":112},{"p":4,"b":"t5-6","x":724,"y":92},{"p":4,"b":"t5-6","x":702,"y":82},{"p":4,"b":"t5-6","x":670,"y":82},{"p":4,"b":"t5-6","x":643,"y":95},{"p":4,"b":"t5-6","x":622,"y":104},{"p":4,"b":"t5-6","x":601,"y":104},{"p":4,"b":"t5-6","x":531,"y":90},{"p":4,"b":"t5-6","x":461,"y":86},{"p":4,"b":"t5-6","x":448,"y":78},
{"p":5,"b":"t6-7","x":448,"y":0},{"p":5,"b":"t6-7","x":750,"y":0},{"p":5,"b":"t6-7","x":750,"y":105},{"p":5,"b":"t6-7","x":740,"y":95},{"p":5,"b":"t6-7","x":724,"y":82},{"p":5,"b":"t6-7","x":700,"y":72},{"p":5,"b":"t6-7","x":660,"y":70},{"p":5,"b":"t6-7","x":630,"y":84},{"p":5,"b":"t6-7","x":603,"y":88},{"p":5,"b":"t6-7","x":531,"y":84},{"p":5,"b":"t6-7","x":467,"y":74},{"p":5,"b":"t6-7","x":448,"y":62},
{"p":6,"b":"t7-8","x":448,"y":0},{"p":6,"b":"t7-8","x":750,"y":0},{"p":6,"b":"t7-8","x":750,"y":100},{"p":6,"b":"t7-8","x":734,"y":76},{"p":6,"b":"t7-8","x":702,"y":58},{"p":6,"b":"t7-8","x":675,"y":52},{"p":6,"b":"t7-8","x":643,"y":64},{"p":6,"b":"t7-8","x":617,"y":74},{"p":6,"b":"t7-8","x":531,"y":64},{"p":6,"b":"t7-8","x":499,"y":54},{"p":6,"b":"t7-8","x":467,"y":52},{"p":6,"b":"t7-8","x":448,"y":35},
{"p":7,"b":"t>8","x":472,"y":0},{"p":7,"b":"t>8","x":472,"y":29},{"p":7,"b":"t>8","x":531,"y":40},{"p":7,"b":"t>8","x":617,"y":50},{"p":7,"b":"t>8","x":643,"y":29},{"p":7,"b":"t>8","x":643,"y":0},
{"p":8,"b":"t>8","x":718,"y":0},{"p":8,"b":"t>8","x":724,"y":21},{"p":8,"b":"t>8","x":750,"y":37},{"p":8,"b":"t>8","x":750,"y":0},
{"p":9,"b":"t4-4.5","x":7,"y":0},{"p":9,"b":"t4-4.5","x":18,"y":17},{"p":9,"b":"t4-4.5","x":50,"y":42},{"p":9,"b":"t4-4.5","x":93,"y":33},{"p":9,"b":"t4-4.5","x":124,"y":29},{"p":9,"b":"t4-4.5","x":162,"y":44},{"p":9,"b":"t4-4.5","x":216,"y":38},{"p":9,"b":"t4-4.5","x":280,"y":30},{"p":9,"b":"t4-4.5","x":350,"y":37},{"p":9,"b":"t4-4.5","x":397,"y":19},{"p":9,"b":"t4-4.5","x":419,"y":15},{"p":9,"b":"t4-4.5","x":432,"y":25},{"p":9,"b":"t4-4.5","x":435,"y":0},
{"p":10,"b":"t4.5-5","x":36,"y":0},{"p":10,"b":"t4.5-5","x":36,"y":17},{"p":10,"b":"t4.5-5","x":52,"y":36},{"p":10,"b":"t4.5-5","x":98,"y":21},{"p":10,"b":"t4.5-5","x":162,"y":38},{"p":10,"b":"t4.5-5","x":205,"y":29},{"p":10,"b":"t4.5-5","x":280,"y":23},{"p":10,"b":"t4.5-5","x":355,"y":33},{"p":10,"b":"t4.5-5","x":371,"y":25},{"p":10,"b":"t4.5-5","x":387,"y":19},{"p":10,"b":"t4.5-5","x":392,"y":0},
{"p":11,"b":"t5-6","x":119,"y":0},{"p":11,"b":"t5-6","x":162,"y":23},{"p":11,"b":"t5-6","x":237,"y":15},{"p":11,"b":"t5-6","x":344,"y":17},{"p":11,"b":"t5-6","x":368,"y":0},
{"p":12,"b":"t7-8","x":162,"y":0},{"p":12,"b":"t7-8","x":170,"y":19},{"p":12,"b":"t7-8","x":199,"y":19},{"p":12,"b":"t7-8","x":242,"y":5},{"p":12,"b":"t7-8","x":280,"y":0},
{"p":13,"b":"t2-3","x":0,"y":44},{"p":13,"b":"t2-3","x":50,"y":44},{"p":13,"b":"t2-3","x":87,"y":44},{"p":13,"b":"t2-3","x":119,"y":38},{"p":13,"b":"t2-3","x":167,"y":50},{"p":13,"b":"t2-3","x":216,"y":44},{"p":13,"b":"t2-3","x":280,"y":38},{"p":13,"b":"t2-3","x":355,"y":42},{"p":13,"b":"t2-3","x":397,"y":36},{"p":13,"b":"t2-3","x":421,"y":33},{"p":13,"b":"t2-3","x":429,"y":40},{"p":13,"b":"t2-3","x":432,"y":72},{"p":13,"b":"t2-3","x":429,"y":128},{"p":13,"b":"t2-3","x":427,"y":187},{"p":13,"b":"t2-3","x":419,"y":223},{"p":13,"b":"t2-3","x":414,"y":231},{"p":13,"b":"t2-3","x":414,"y":240},{"p":13,"b":"t2-3","x":0,"y":240},
{"p":14,"b":"t1-2","x":0,"y":58},{"p":14,"b":"t1-2","x":50,"y":57},{"p":14,"b":"t1-2","x":76,"y":64},{"p":14,"b":"t1-2","x":119,"y":48},{"p":14,"b":"t1-2","x":167,"y":60},{"p":14,"b":"t1-2","x":205,"y":60},{"p":14,"b":"t1-2","x":269,"y":50},{"p":14,"b":"t1-2","x":306,"y":50},{"p":14,"b":"t1-2","x":355,"y":51},{"p":14,"b":"t1-2","x":392,"y":50},{"p":14,"b":"t1-2","x":416,"y":52},{"p":14,"b":"t1-2","x":421,"y":72},{"p":14,"b":"t1-2","x":421,"y":128},{"p":14,"b":"t1-2","x":424,"y":167},{"p":14,"b":"t1-2","x":421,"y":191},{"p":14,"b":"t1-2","x":408,"y":211},{"p":14,"b":"t1-2","x":408,"y":220},{"p":14,"b":"t1-2","x":0,"y":220},
{"p":15,"b":"t0-1","x":0,"y":74},{"p":15,"b":"t0-1","x":50,"y":68},{"p":15,"b":"t0-1","x":76,"y":72},{"p":15,"b":"t0-1","x":119,"y":57},{"p":15,"b":"t0-1","x":167,"y":68},{"p":15,"b":"t0-1","x":205,"y":67},{"p":15,"b":"t0-1","x":269,"y":62},{"p":15,"b":"t0-1","x":371,"y":62},{"p":15,"b":"t0-1","x":392,"y":60},{"p":15,"b":"t0-1","x":403,"y":61},{"p":15,"b":"t0-1","x":411,"y":72},{"p":15,"b":"t0-1","x":411,"y":128},{"p":15,"b":"t0-1","x":411,"y":156},{"p":15,"b":"t0-1","x":403,"y":179},{"p":15,"b":"t0-1","x":395,"y":189},{"p":15,"b":"t0-1","x":395,"y":200},{"p":15,"b":"t0-1","x":0,"y":200},
{"p":16,"b":"t-1-0","x":6,"y":94},{"p":16,"b":"t-1-0","x":18,"y":82},{"p":16,"b":"t-1-0","x":71,"y":87},{"p":16,"b":"t-1-0","x":119,"y":68},{"p":16,"b":"t-1-0","x":162,"y":74},{"p":16,"b":"t-1-0","x":194,"y":86},{"p":16,"b":"t-1-0","x":232,"y":76},{"p":16,"b":"t-1-0","x":290,"y":75},{"p":16,"b":"t-1-0","x":360,"y":76},{"p":16,"b":"t-1-0","x":392,"y":74},{"p":16,"b":"t-1-0","x":395,"y":88},{"p":16,"b":"t-1-0","x":395,"y":132},{"p":16,"b":"t-1-0","x":387,"y":152},{"p":16,"b":"t-1-0","x":379,"y":156},{"p":16,"b":"t-1-0","x":379,"y":200},{"p":16,"b":"t-1-0","x":6,"y":200},
{"p":17,"b":"floor","x":0,"y":30},{"p":17,"b":"floor","x":4,"y":100},{"p":17,"b":"floor","x":8,"y":150},{"p":17,"b":"floor","x":15,"y":187},{"p":17,"b":"floor","x":23,"y":167},{"p":17,"b":"floor","x":34,"y":136},{"p":17,"b":"floor","x":50,"y":128},{"p":17,"b":"floor","x":87,"y":148},{"p":17,"b":"floor","x":98,"y":118},{"p":17,"b":"floor","x":109,"y":105},{"p":17,"b":"floor","x":143,"y":107},{"p":17,"b":"floor","x":157,"y":152},{"p":17,"b":"floor","x":175,"y":187},{"p":17,"b":"floor","x":183,"y":175},{"p":17,"b":"floor","x":191,"y":140},{"p":17,"b":"floor","x":216,"y":86},{"p":17,"b":"floor","x":232,"y":76},{"p":17,"b":"floor","x":285,"y":79},{"p":17,"b":"floor","x":317,"y":92},{"p":17,"b":"floor","x":349,"y":132},{"p":17,"b":"floor","x":381,"y":156},{"p":17,"b":"floor","x":397,"y":191},{"p":17,"b":"floor","x":416,"y":239},{"p":17,"b":"floor","x":419,"y":275},{"p":17,"b":"floor","x":424,"y":346},{"p":17,"b":"floor","x":429,"y":400},{"p":17,"b":"floor","x":482,"y":400},{"p":17,"b":"floor","x":486,"y":346},{"p":17,"b":"floor","x":494,"y":326},{"p":17,"b":"floor","x":534,"y":296},{"p":17,"b":"floor","x":562,"y":243},{"p":17,"b":"floor","x":582,"y":167},{"p":17,"b":"floor","x":603,"y":148},{"p":17,"b":"floor","x":635,"y":139},{"p":17,"b":"floor","x":662,"y":275},{"p":17,"b":"floor","x":683,"y":400},{"p":17,"b":"floor","x":0,"y":400}],
"l5":[{"t":"6","x":207,"y":11,"o":"flat"},{"t":"6","x":355,"y":17,"o":"flat"},{"t":"4","x":50,"y":40,"o":"flat"},{"t":"5","x":95,"y":19,"o":"flat"},{"t":"4.5","x":78,"y":30,"o":"flat"},{"t":"3","x":57,"y":53,"o":"flat"},{"t":"2","x":71,"y":61,"o":"flat"},{"t":"1","x":141,"y":58,"o":"flat"},{"t":"0","x":142,"y":71,"o":"flat"},{"t":"0","x":22,"y":85,"o":"flat"},{"t":"4","x":162,"y":41,"o":"flat"},{"t":"3","x":170,"y":52,"o":"flat"},{"t":"2","x":185,"y":60,"o":"flat"},{"t":"5","x":237,"y":21,"o":"flat"},{"t":"4.5","x":228,"y":33,"o":"flat"},{"t":"4","x":210,"y":35,"o":"flat"},{"t":"4","x":280,"y":35,"o":"flat"},{"t":"3","x":291,"y":44,"o":"flat"},{"t":"2","x":306,"y":52,"o":"flat"},{"t":"1","x":259,"y":66,"o":"flat"},{"t":"4.5","x":345,"y":31,"o":"flat"},{"t":"5","x":368,"y":28,"o":"flat"},{"t":"4","x":394,"y":25,"o":"flat"},{"t":"3","x":408,"y":35,"o":"flat"},{"t":"1","x":379,"y":60,"o":"flat"},{"t":"0","x":375,"y":74,"o":"flat"},{"t":"2","x":416,"y":61,"o":"flat"},{"t":"3","x":438,"y":114,"o":"flat"},{"t":"1","x":408,"y":137,"o":"flat"},{"t":"2","x":421,"y":157,"o":"flat"},{"t":"3","x":425,"y":210,"o":"flat"},{"t":"4","x":452,"y":174,"o":"flat"},{"t":"4","x":447,"y":271,"o":"flat"},{"t":"3","x":475,"y":363,"o":"flat"},{"t":"4.5","x":546,"y":156,"o":"flat"},{"t":"8","x":643,"y":17,"o":"flat"},{"t":"8","x":549,"y":44,"o":"flat"},{"t":"7","x":502,"y":56,"o":"flat"},{"t":"6","x":487,"y":70,"o":"flat"},{"t":"7","x":619,"y":74,"o":"flat"},{"t":"6","x":605,"y":88,"o":"flat"},{"t":"6","x":531,"y":90,"o":"flat"},{"t":"5","x":643,"y":92,"o":"flat"},{"t":"4.5","x":664,"y":95,"o":"slant"},{"t":"4.5","x":650,"y":110,"o":"slant"},{"t":"4","x":683,"y":119,"o":"flat"},{"t":"4","x":682,"y":215,"o":"flat"},{"t":"4","x":717,"y":186,"o":"flat"},{"t":"4","x":738,"y":281,"o":"flat"},{"t":"6","x":735,"y":33,"o":"flat"},{"t":"7","x":732,"y":50,"o":"flat"},{"t":"6","x":710,"y":63,"o":"flat"},{"t":"5","x":739,"y":98,"o":"flat"},{"t":"4.5","x":737,"y":130,"o":"flat"},{"t":"4.5","x":739,"y":146,"o":"flat"},{"t":"7","x":448,"y":52,"o":"flat"},{"t":"6","x":446,"y":68,"o":"flat"},{"t":"5","x":448,"y":82,"o":"flat"}],
"d6":[{"p":1,"b":"s>34.5","x":0,"y":0},{"p":1,"b":"s>34.5","x":750,"y":0},{"p":1,"b":"s>34.5","x":750,"y":400},{"p":1,"b":"s>34.5","x":0,"y":400},
{"p":2,"b":"s34-34.5","x":0,"y":0},{"p":2,"b":"s34-34.5","x":750,"y":0},{"p":2,"b":"s34-34.5","x":750,"y":93},{"p":2,"b":"s34-34.5","x":732,"y":87},{"p":2,"b":"s34-34.5","x":701,"y":81},{"p":2,"b":"s34-34.5","x":674,"y":87},{"p":2,"b":"s34-34.5","x":637,"y":118},{"p":2,"b":"s34-34.5","x":608,"y":127},{"p":2,"b":"s34-34.5","x":553,"y":111},{"p":2,"b":"s34-34.5","x":510,"y":99},{"p":2,"b":"s34-34.5","x":473,"y":87},{"p":2,"b":"s34-34.5","x":460,"y":99},{"p":2,"b":"s34-34.5","x":449,"y":118},{"p":2,"b":"s34-34.5","x":436,"y":162},{"p":2,"b":"s34-34.5","x":417,"y":225},{"p":2,"b":"s34-34.5","x":0,"y":225},
{"p":3,"b":"s33.5-34","x":0,"y":0},{"p":3,"b":"s33.5-34","x":681,"y":0},{"p":3,"b":"s33.5-34","x":681,"y":18},{"p":3,"b":"s33.5-34","x":621,"y":67},{"p":3,"b":"s33.5-34","x":579,"y":60},{"p":3,"b":"s33.5-34","x":515,"y":51},{"p":3,"b":"s33.5-34","x":483,"y":47},{"p":3,"b":"s33.5-34","x":462,"y":32},{"p":3,"b":"s33.5-34","x":449,"y":37},{"p":3,"b":"s33.5-34","x":439,"y":61},{"p":3,"b":"s33.5-34","x":425,"y":99},{"p":3,"b":"s33.5-34","x":412,"y":150},{"p":3,"b":"s33.5-34","x":396,"y":189},{"p":3,"b":"s33.5-34","x":396,"y":198},{"p":3,"b":"s33.5-34","x":0,"y":198},
{"p":4,"b":"s33.5-34","x":735,"y":0},{"p":4,"b":"s33.5-34","x":738,"y":12},{"p":4,"b":"s33.5-34","x":750,"y":30},{"p":4,"b":"s33.5-34","x":750,"y":0},
{"p":5,"b":"s33-33.5","x":0,"y":0},{"p":5,"b":"s33-33.5","x":443,"y":0},{"p":5,"b":"s33-33.5","x":441,"y":18},{"p":5,"b":"s33-33.5","x":423,"y":47},{"p":5,"b":"s33-33.5","x":417,"y":75},{"p":5,"b":"s33-33.5","x":404,"y":106},{"p":5,"b":"s33-33.5","x":388,"y":130},{"p":5,"b":"s33-33.5","x":370,"y":146},{"p":5,"b":"s33-33.5","x":370,"y":198},{"p":5,"b":"s33-33.5","x":0,"y":198},
{"p":6,"b":"s32.5-33","x":0,"y":0},{"p":6,"b":"s32.5-33","x":423,"y":0},{"p":6,"b":"s32.5-33","x":415,"y":32},{"p":6,"b":"s32.5-33","x":399,"y":63},{"p":6,"b":"s32.5-33","x":378,"y":79},{"p":6,"b":"s32.5-33","x":351,"y":89},{"p":6,"b":"s32.5-33","x":314,"y":91},{"p":6,"b":"s32.5-33","x":280,"y":100},{"p":6,"b":"s32.5-33","x":220,"y":100},{"p":6,"b":"s32.5-33","x":211,"y":99},{"p":6,"b":"s32.5-33","x":171,"y":95},{"p":6,"b":"s32.5-33","x":150,"y":90},{"p":6,"b":"s32.5-33","x":118,"y":91},{"p":6,"b":"s32.5-33","x":92,"y":106},{"p":6,"b":"s32.5-33","x":70,"y":110},{"p":6,"b":"s32.5-33","x":12,"y":120},{"p":6,"b":"s32.5-33","x":7,"y":102},{"p":6,"b":"s32.5-33","x":0,"y":63},
{"p":7,"b":"s32-32.5","x":0,"y":0},{"p":7,"b":"s32-32.5","x":394,"y":0},{"p":7,"b":"s32-32.5","x":376,"y":12},{"p":7,"b":"s32-32.5","x":367,"y":32},{"p":7,"b":"s32-32.5","x":341,"y":37},{"p":7,"b":"s32-32.5","x":277,"y":37},{"p":7,"b":"s32-32.5","x":208,"y":43},{"p":7,"b":"s32-32.5","x":145,"y":47},{"p":7,"b":"s32-32.5","x":102,"y":56},{"p":7,"b":"s32-32.5","x":54,"y":67},{"p":7,"b":"s32-32.5","x":7,"y":65},{"p":7,"b":"s32-32.5","x":0,"y":61},
{"p":8,"b":"s<32","x":0,"y":0},{"p":8,"b":"s<32","x":100,"y":0},{"p":8,"b":"s<32","x":92,"y":16},{"p":8,"b":"s<32","x":57,"y":31},{"p":8,"b":"s<32","x":23,"y":24},{"p":8,"b":"s<32","x":2,"y":18},{"p":8,"b":"s<32","x":0,"y":18},
{"p":9,"b":"floor","x":0,"y":60},{"p":9,"b":"floor","x":4,"y":100},{"p":9,"b":"floor","x":8,"y":140},{"p":9,"b":"floor","x":15,"y":187},{"p":9,"b":"floor","x":23,"y":169},{"p":9,"b":"floor","x":33,"y":138},{"p":9,"b":"floor","x":47,"y":128},{"p":9,"b":"floor","x":86,"y":148},{"p":9,"b":"floor","x":94,"y":118},{"p":9,"b":"floor","x":105,"y":104},{"p":9,"b":"floor","x":142,"y":105},{"p":9,"b":"floor","x":155,"y":146},{"p":9,"b":"floor","x":166,"y":181},{"p":9,"b":"floor","x":179,"y":189},{"p":9,"b":"floor","x":187,"y":177},{"p":9,"b":"floor","x":192,"y":138},{"p":9,"b":"floor","x":213,"y":87},{"p":9,"b":"floor","x":232,"y":77},{"p":9,"b":"floor","x":282,"y":77},{"p":9,"b":"floor","x":314,"y":93},{"p":9,"b":"floor","x":346,"y":126},{"p":9,"b":"floor","x":370,"y":146},{"p":9,"b":"floor","x":383,"y":162},{"p":9,"b":"floor","x":396,"y":191},{"p":9,"b":"floor","x":415,"y":233},{"p":9,"b":"floor","x":420,"y":288},{"p":9,"b":"floor","x":428,"y":400},{"p":9,"b":"floor","x":481,"y":400},{"p":9,"b":"floor","x":486,"y":347},{"p":9,"b":"floor","x":491,"y":329},{"p":9,"b":"floor","x":534,"y":296},{"p":9,"b":"floor","x":563,"y":240},{"p":9,"b":"floor","x":579,"y":173},{"p":9,"b":"floor","x":595,"y":150},{"p":9,"b":"floor","x":621,"y":140},{"p":9,"b":"floor","x":637,"y":142},{"p":9,"b":"floor","x":650,"y":217},{"p":9,"b":"floor","x":682,"y":400},{"p":9,"b":"floor","x":0,"y":400}],
"l6":[{"t":"32","x":27,"y":23,"o":"slant"},{"t":"32.5","x":36,"y":66,"o":"flat"},{"t":"32.5","x":181,"y":47,"o":"flat"},{"t":"32.5","x":325,"y":37,"o":"flat"},{"t":"33","x":151,"y":92,"o":"flat"},{"t":"33","x":27,"y":121,"o":"flat"},{"t":"33","x":398,"y":58,"o":"steep"},{"t":"33.5","x":411,"y":87,"o":"steep"},{"t":"34","x":486,"y":39,"o":"slant"},{"t":"34","x":624,"y":62,"o":"slant"},{"t":"34","x":416,"y":145,"o":"steep"},{"t":"34.5","x":440,"y":152,"o":"steep"},{"t":"34.5","x":529,"y":106,"o":"flat"},{"t":"34.5","x":664,"y":102,"o":"slant"}],
"s":[{"a":1}]
},
"spacing":-15,
"vconcat":[
{"spacing":0,"hconcat":[
{"width":18,"height":1,"view":{"stroke":null},"data":{"name":"s"},"mark":{"type":"point","opacity":0},"encoding":{}},
{"title":{"text":"Grand Bank Temperature : 2005","offset":7},"width":497,"height":332,"layer":[
{"data":{"name":"d1"},"mark":{"type":"line","stroke":"#000","strokeWidth":1},"encoding":{"x":{"field":"x","type":"quantitative","scale":{"domain":[0,525],"nice":false},"axis":{"tickCount":100,"labelOverlap":false,"labelFlush":false,"values":[0,35,70,105,140,175,210,245,280,315,350,385,420,455,490,525],"title":"DISTANCE (KM)"}},"y":{"field":"y","type":"quantitative","scale":{"domain":[300,0],"nice":false},"axis":{"tickCount":100,"labelOverlap":false,"labelFlush":false,"values":[0,30,60,90,120,150,180,210,240,270,300],"title":"DEPTH (M)"}},"fill":{"field":"b","type":"nominal","legend":null,"scale":{"domain":["t<-1","t-1-0","t0-1","t1-2","t2-3","t3-4","t4-4.5","t4.5-5","t5-6","t6-7","t7-8","t>8","floor","s<32","s32-32.5","s32.5-32.75","s32.5-33","s32.75-33","s33-33.5","s33.5-34","s34-34.5","s>34.5"],"range":["#3300cc","#00ffff","#00ff00","#ffffcc","#ffff00","#ff6633","#ff00ff","#ff0099","#ff0066","#d6003a","#c00028","#a3001e","#b2b2b2","#00ffff","#00ff00","#ffffcc","#ffffcc","#ffff66","#ffff00","#ff6633","#ff00ff","#ff0066"]}},"detail":{"field":"p"},"order":{"value":null}}},
{"data":{"name":"l1"},"mark":{"type":"text","font":"DejaVu Sans","fontSize":10,"fontWeight":"bold","color":"#000"},"encoding":{"x":{"field":"x","type":"quantitative"},"y":{"field":"y","type":"quantitative"},"text":{"field":"t"},"angle":{"field":"o","type":"nominal","legend":null,"scale":{"type":"ordinal","domain":["flat","slant","steep"],"range":[0,335,285]}}}}]},
{"title":{"text":"Flemish Cap Salinity : 2005","offset":6},"width":496,"height":332,"layer":[
{"data":{"name":"d2"},"mark":{"type":"line","stroke":"#000","strokeWidth":1},"encoding":{"x":{"field":"x","type":"quantitative","scale":{"domain":[0,525],"nice":false},"axis":{"tickCount":100,"labelOverlap":false,"labelFlush":false,"values":[0,35,70,105,140,175,210,245,280,315,350,385,420,455,490,525],"title":"DISTANCE (KM)"}},"y":{"field":"y","type":"quantitative","scale":{"domain":[300,0],"nice":false},"axis":{"tickCount":100,"labelOverlap":false,"labelFlush":false,"values":[0,30,60,90,120,150,180,210,240,270,300],"title":"DEPTH (M)"}},"fill":{"field":"b","type":"nominal","legend":null,"scale":{"domain":["t<-1","t-1-0","t0-1","t1-2","t2-3","t3-4","t4-4.5","t4.5-5","t5-6","t6-7","t7-8","t>8","floor","s<32","s32-32.5","s32.5-32.75","s32.5-33","s32.75-33","s33-33.5","s33.5-34","s34-34.5","s>34.5"],"range":["#3300cc","#00ffff","#00ff00","#ffffcc","#ffff00","#ff6633","#ff00ff","#ff0099","#ff0066","#d6003a","#c00028","#a3001e","#b2b2b2","#00ffff","#00ff00","#ffffcc","#ffffcc","#ffff66","#ffff00","#ff6633","#ff00ff","#ff0066"]}},"detail":{"field":"p"},"order":{"value":null}}},
{"data":{"name":"l2"},"mark":{"type":"text","font":"DejaVu Sans","fontSize":10,"fontWeight":"bold","color":"#000"},"encoding":{"x":{"field":"x","type":"quantitative"},"y":{"field":"y","type":"quantitative"},"text":{"field":"t"},"angle":{"field":"o","type":"nominal","legend":null,"scale":{"type":"ordinal","domain":["flat","slant","steep"],"range":[0,335,285]}}}}]}
]},
{"spacing":0,"hconcat":[
{"width":21,"height":1,"view":{"stroke":null},"data":{"name":"s"},"mark":{"type":"point","opacity":0},"encoding":{}},
{"spacing":0,"vconcat":[
{"width":1,"height":1,"view":{"stroke":null},"data":{"name":"s"},"mark":{"type":"point","opacity":0},"encoding":{}},
{"title":{"text":"Flemish Cap Temperature : July 2005","offset":5},"width":503,"height":334,"layer":[
{"data":{"name":"d3"},"mark":{"type":"line","stroke":"#000","strokeWidth":1},"encoding":{"x":{"field":"x","type":"quantitative","scale":{"domain":[0,712],"nice":false},"axis":{"tickCount":100,"labelOverlap":false,"labelFlush":false,"values":[0,50,100,150,200,250,300,350,400,450,500,550,600,650,700],"title":"DISTANCE (KM)"}},"y":{"field":"y","type":"quantitative","scale":{"domain":[400,0],"nice":false},"axis":{"tickCount":100,"labelOverlap":false,"labelFlush":false,"values":[0,40,80,120,160,200,240,280,320,360,400],"title":"DEPTH (M)"}},"fill":{"field":"b","type":"nominal","legend":null,"scale":{"domain":["t<-1","t-1-0","t0-1","t1-2","t2-3","t3-4","t4-4.5","t4.5-5","t5-6","t6-7","t7-8","t>8","floor","s<32","s32-32.5","s32.5-32.75","s32.5-33","s32.75-33","s33-33.5","s33.5-34","s34-34.5","s>34.5"],"range":["#3300cc","#00ffff","#00ff00","#ffffcc","#ffff00","#ff6633","#ff00ff","#ff0099","#ff0066","#d6003a","#c00028","#a3001e","#b2b2b2","#00ffff","#00ff00","#ffffcc","#ffffcc","#ffff66","#ffff00","#ff6633","#ff00ff","#ff0066"]}},"detail":{"field":"p"},"order":{"value":null}}},
{"data":{"name":"l3"},"mark":{"type":"text","font":"DejaVu Sans","fontSize":10,"fontWeight":"bold","color":"#000"},"encoding":{"x":{"field":"x","type":"quantitative"},"y":{"field":"y","type":"quantitative"},"text":{"field":"t"},"angle":{"field":"o","type":"nominal","legend":null,"scale":{"type":"ordinal","domain":["flat","slant","steep"],"range":[0,335,285]}}}}]}
]},
{"width":3,"height":1,"view":{"stroke":null},"data":{"name":"s"},"mark":{"type":"point","opacity":0},"encoding":{}},
{"spacing":0,"vconcat":[
{"width":1,"height":13,"view":{"stroke":null},"data":{"name":"s"},"mark":{"type":"point","opacity":0},"encoding":{}},
{"title":{"text":"Flemish Cap Salinity : July 2005","offset":6},"width":503,"height":326,"layer":[
{"data":{"name":"d4"},"mark":{"type":"line","stroke":"#000","strokeWidth":1},"encoding":{"x":{"field":"x","type":"quantitative","scale":{"domain":[0,706],"nice":false},"axis":{"tickCount":100,"labelOverlap":false,"labelFlush":false,"values":[0,50,100,150,200,250,300,350,400,450,500,550,600,650,700],"title":"DISTANCE (KM)"}},"y":{"field":"y","type":"quantitative","scale":{"domain":[400,0],"nice":false},"axis":{"tickCount":100,"labelOverlap":false,"labelFlush":false,"values":[0,40,80,120,160,200,240,280,320,360,400],"title":"DEPTH (M)"}},"fill":{"field":"b","type":"nominal","legend":null,"scale":{"domain":["t<-1","t-1-0","t0-1","t1-2","t2-3","t3-4","t4-4.5","t4.5-5","t5-6","t6-7","t7-8","t>8","floor","s<32","s32-32.5","s32.5-32.75","s32.5-33","s32.75-33","s33-33.5","s33.5-34","s34-34.5","s>34.5"],"range":["#3300cc","#00ffff","#00ff00","#ffffcc","#ffff00","#ff6633","#ff00ff","#ff0099","#ff0066","#d6003a","#c00028","#a3001e","#b2b2b2","#00ffff","#00ff00","#ffffcc","#ffffcc","#ffff66","#ffff00","#ff6633","#ff00ff","#ff0066"]}},"detail":{"field":"p"},"order":{"value":null}}},
{"data":{"name":"l4"},"mark":{"type":"text","font":"DejaVu Sans","fontSize":10,"fontWeight":"bold","color":"#000"},"encoding":{"x":{"field":"x","type":"quantitative"},"y":{"field":"y","type":"quantitative"},"text":{"field":"t"},"angle":{"field":"o","type":"nominal","legend":null,"scale":{"type":"ordinal","domain":["flat","slant","steep"],"range":[0,335,285]}}}}]}
]}
]},
{"spacing":0,"hconcat":[
{"width":9,"height":1,"view":{"stroke":null},"data":{"name":"s"},"mark":{"type":"point","opacity":0},"encoding":{}},
{"spacing":0,"vconcat":[
{"width":1,"height":6,"view":{"stroke":null},"data":{"name":"s"},"mark":{"type":"point","opacity":0},"encoding":{}},
{"title":{"text":"Flemish Cap Temperature : Fall 2005","offset":5},"width":505,"height":336,"layer":[
{"data":{"name":"d5"},"mark":{"type":"line","stroke":"#000","strokeWidth":1},"encoding":{"x":{"field":"x","type":"quantitative","scale":{"domain":[0,750],"nice":false},"axis":{"tickCount":100,"labelOverlap":false,"labelFlush":false,"values":[0,50,100,150,200,250,300,350,400,450,500,550,600,650,700,750],"title":"DISTANCE (KM)"}},"y":{"field":"y","type":"quantitative","scale":{"domain":[400,0],"nice":false},"axis":{"tickCount":100,"labelOverlap":false,"labelFlush":false,"values":[0,40,80,120,160,200,240,280,320,360,400],"title":"DEPTH (M)"}},"fill":{"field":"b","type":"nominal","legend":null,"scale":{"domain":["t<-1","t-1-0","t0-1","t1-2","t2-3","t3-4","t4-4.5","t4.5-5","t5-6","t6-7","t7-8","t>8","floor","s<32","s32-32.5","s32.5-32.75","s32.5-33","s32.75-33","s33-33.5","s33.5-34","s34-34.5","s>34.5"],"range":["#3300cc","#00ffff","#00ff00","#ffffcc","#ffff00","#ff6633","#ff00ff","#ff0099","#ff0066","#d6003a","#c00028","#a3001e","#b2b2b2","#00ffff","#00ff00","#ffffcc","#ffffcc","#ffff66","#ffff00","#ff6633","#ff00ff","#ff0066"]}},"detail":{"field":"p"},"order":{"value":null}}},
{"data":{"name":"l5"},"mark":{"type":"text","font":"DejaVu Sans","fontSize":10,"fontWeight":"bold","color":"#000"},"encoding":{"x":{"field":"x","type":"quantitative"},"y":{"field":"y","type":"quantitative"},"text":{"field":"t"},"angle":{"field":"o","type":"nominal","legend":null,"scale":{"type":"ordinal","domain":["flat","slant","steep"],"range":[0,335,285]}}}}]}
]},
{"spacing":0,"vconcat":[
{"width":1,"height":2,"view":{"stroke":null},"data":{"name":"s"},"mark":{"type":"point","opacity":0},"encoding":{}},
{"title":{"text":"Flemish Cap Salinity : Fall 2005","offset":5},"width":508,"height":340,"layer":[
{"data":{"name":"d6"},"mark":{"type":"line","stroke":"#000","strokeWidth":1},"encoding":{"x":{"field":"x","type":"quantitative","scale":{"domain":[0,750],"nice":false},"axis":{"tickCount":100,"labelOverlap":false,"labelFlush":false,"values":[0,50,100,150,200,250,300,350,400,450,500,550,600,650,700,750],"title":"DISTANCE (KM)"}},"y":{"field":"y","type":"quantitative","scale":{"domain":[400,0],"nice":false},"axis":{"tickCount":100,"labelOverlap":false,"labelFlush":false,"values":[0,40,80,120,160,200,240,280,320,360,400],"title":"DEPTH (M)"}},"fill":{"field":"b","type":"nominal","legend":null,"scale":{"domain":["t<-1","t-1-0","t0-1","t1-2","t2-3","t3-4","t4-4.5","t4.5-5","t5-6","t6-7","t7-8","t>8","floor","s<32","s32-32.5","s32.5-32.75","s32.5-33","s32.75-33","s33-33.5","s33.5-34","s34-34.5","s>34.5"],"range":["#3300cc","#00ffff","#00ff00","#ffffcc","#ffff00","#ff6633","#ff00ff","#ff0099","#ff0066","#d6003a","#c00028","#a3001e","#b2b2b2","#00ffff","#00ff00","#ffffcc","#ffffcc","#ffff66","#ffff00","#ff6633","#ff00ff","#ff0066"]}},"detail":{"field":"p"},"order":{"value":null}}},
{"data":{"name":"l6"},"mark":{"type":"text","font":"DejaVu Sans","fontSize":10,"fontWeight":"bold","color":"#000"},"encoding":{"x":{"field":"x","type":"quantitative"},"y":{"field":"y","type":"quantitative"},"text":{"field":"t"},"angle":{"field":"o","type":"nominal","legend":null,"scale":{"type":"ordinal","domain":["flat","slant","steep"],"range":[0,335,285]}}}}]}
]}
]}
]}
